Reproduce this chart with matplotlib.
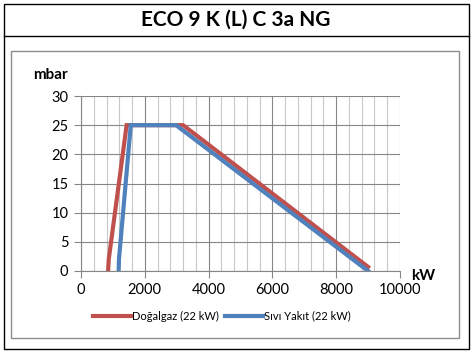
import matplotlib
matplotlib.use("Agg")
import matplotlib.pyplot as plt
from matplotlib.patches import Rectangle
from matplotlib.lines import Line2D
import numpy as np

# data
gas_kw = [850, 870, 1430, 3200, 9000]
gas_mbar = [0, 2, 25, 25, 0.7]
oil_kw = [1180, 1190, 1560, 2980, 9000]
oil_mbar = [0, 2, 25, 25, 0]
labels = ["Doğalgaz (22 kW)", "Sıvı Yakıt (22 kW)"]
title = "ECO 9 K (L) C 3a NG"

RED = "#C0504D"
BLUE = "#4F81BD"
W, H = 472, 356

plt.rcParams['font.family'] = ['Lato', 'DejaVu Sans']

fig = plt.figure(figsize=(W / 100, H / 100), dpi=100)

# outer boxes (pixel coords -> figure fraction)
def box(x0, y0, x1, y1, **kw):
    fig.add_artist(Rectangle((x0 / W, 1 - y1 / H), (x1 - x0) / W, (y1 - y0) / H,
                             transform=fig.transFigure, fill=False, **kw))

box(3.5, 3.5, 468.5, 348.5, edgecolor="black", linewidth=1.0)
fig.add_artist(Line2D([3.5 / W, 468.5 / W], [1 - 36 / H, 1 - 36 / H],
                      transform=fig.transFigure, color="black", linewidth=1.0))
box(11, 50.5, 459, 338, edgecolor="#8c8c8c", linewidth=1.0)

fig.text(236 / W, 1 - 20 / H, title, ha="center", va="center",
         fontsize=15, fontweight="bold")

ax = fig.add_axes([81 / W, 1 - 271 / H, 319 / W, 175 / H])
ax.plot(gas_kw, gas_mbar, color=RED, linewidth=3, label=labels[0],
        solid_joinstyle="miter", zorder=3)
ax.plot(oil_kw, oil_mbar, color=BLUE, linewidth=3, label=labels[1],
        solid_joinstyle="miter", zorder=4)

ax.set_xlim(0, 10000)
ax.set_ylim(0, 30)
ax.set_xticks(np.arange(0, 10001, 2000))
ax.set_xticks(np.arange(0, 10001, 400), minor=True)
ax.set_yticks(np.arange(0, 31, 5))
ax.grid(which="major", color="#868686", linewidth=0.8)
ax.grid(which="minor", axis="x", color="#c8c8c8", linewidth=0.8)
ax.set_axisbelow(True)
for s in ["top", "right"]:
    ax.spines[s].set_visible(False)
for s in ["left", "bottom"]:
    ax.spines[s].set_color("#868686")
    ax.spines[s].set_linewidth(0.8)
ax.tick_params(which="major", length=5, width=0.8, color="#868686",
               labelsize=10.5, pad=4)
ax.tick_params(which="minor", length=0)

fig.text(50 / W, 1 - 75 / H, "mbar", ha="center", va="center",
         fontsize=11, fontweight="bold")
fig.text(423 / W, 1 - 276 / H, "kW", ha="center", va="center",
         fontsize=11, fontweight="bold")

fig.legend(loc="center", bbox_to_anchor=(222 / W, 1 - 316 / H), ncol=2,
           frameon=False, fontsize=8, handlelength=3.4, handletextpad=0.1,
           columnspacing=0.6)

fig.savefig("out.png", dpi=100)
